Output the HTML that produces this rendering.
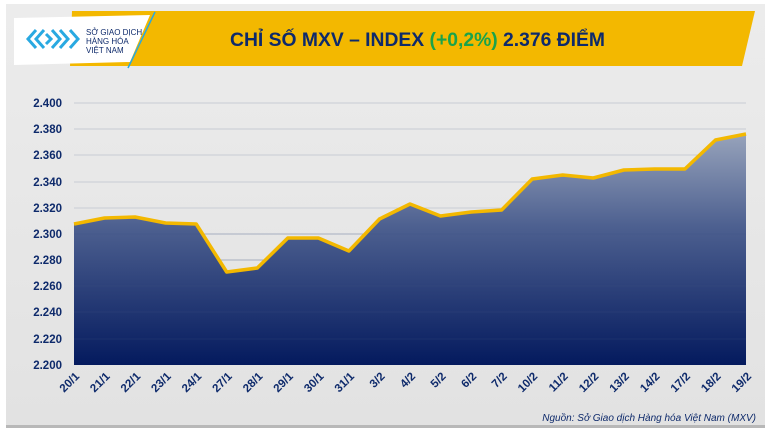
<!DOCTYPE html>
<html><head><meta charset="utf-8"><style>
html,body{margin:0;padding:0;background:#fff;}
body{width:770px;height:433px;overflow:hidden;font-family:"Liberation Sans",sans-serif;}
</style></head><body>
<svg width="770" height="433" viewBox="0 0 770 433" xmlns="http://www.w3.org/2000/svg">
<defs>
<linearGradient id="bg" x1="0" y1="0" x2="0" y2="1"><stop offset="0" stop-color="#ececec"/><stop offset="1" stop-color="#e2e2e2"/></linearGradient>
<linearGradient id="fl" x1="0" y1="0" x2="0" y2="1"><stop offset="0" stop-color="#97a3bb"/><stop offset="0.4" stop-color="#4d6090"/><stop offset="1" stop-color="#041a5e"/></linearGradient>
</defs>
<rect x="0" y="0" width="770" height="433" fill="#fff"/>
<rect x="6" y="4" width="759" height="423" fill="url(#bg)"/>
<rect x="6" y="425" width="759" height="3" fill="#b8b8b8"/>
<polygon points="72,11 755,11 742,66 70,66" fill="#f3b800"/>
<polygon points="14,18 150,15 130,62 14,65" fill="#fff"/>
<line x1="155" y1="12" x2="128" y2="68" stroke="#2aa8e0" stroke-width="1.5"/>
<g fill="none" stroke="#29a9e1" stroke-width="3">
<path d="M36,30 l-8,9 l8,9 M44,30 l-8,9 l8,9 M52,30 l8,9 l-8,9 M60,30 l8,9 l-8,9 M46,34 l5,5 l-5,5 M70,30 l8,9 l-8,9"/>
</g>
<text x="86" y="35" font-size="8" fill="#0e2a6b">SỞ GIAO DỊCH</text>
<text x="86" y="44" font-size="8" fill="#0e2a6b">HÀNG HÓA</text>
<text x="86" y="53" font-size="8" fill="#0e2a6b">VIỆT NAM</text>
<text x="230" y="46" font-size="19" font-weight="bold" fill="#0e2a6b" textLength="375" lengthAdjust="spacingAndGlyphs">CHỈ SỐ MXV – INDEX <tspan fill="#1aa34a">(+0,2%)</tspan> 2.376 ĐIỂM</text>
<g stroke="#c8ccd4" stroke-width="1">
<line x1="74" y1="103" x2="746" y2="103"/><line x1="74" y1="129" x2="746" y2="129"/><line x1="74" y1="155" x2="746" y2="155"/><line x1="74" y1="182" x2="746" y2="182"/><line x1="74" y1="208" x2="746" y2="208"/><line x1="74" y1="234" x2="746" y2="234"/><line x1="74" y1="260" x2="746" y2="260"/><line x1="74" y1="286" x2="746" y2="286"/><line x1="74" y1="312" x2="746" y2="312"/><line x1="74" y1="339" x2="746" y2="339"/>
</g>
<polygon fill="url(#fl)" points="74,365 74,224 104.5,218 135.1,217 165.6,223 196.2,224 226.7,272 257.3,268 287.8,238 318.4,238 348.9,251 379.5,219 410,204 440.5,216 471.1,212 501.6,210 532.2,179 562.7,175 593.3,178 623.8,170 654.4,169 684.9,169 715.5,140 746,134 746,365"/>
<g stroke="#3d5080" stroke-width="0.6" opacity="0.5"><line x1="74" y1="234" x2="746" y2="234"/><line x1="74" y1="260" x2="746" y2="260"/><line x1="74" y1="286" x2="746" y2="286"/><line x1="74" y1="312" x2="746" y2="312"/><line x1="74" y1="339" x2="746" y2="339"/></g>
<polyline fill="none" stroke="#f3b800" stroke-width="3.5" stroke-linejoin="round" points="74,224 104.5,218 135.1,217 165.6,223 196.2,224 226.7,272 257.3,268 287.8,238 318.4,238 348.9,251 379.5,219 410,204 440.5,216 471.1,212 501.6,210 532.2,179 562.7,175 593.3,178 623.8,170 654.4,169 684.9,169 715.5,140 746,134"/>
<g font-size="11.5" font-weight="bold" fill="#0e2a6b" text-anchor="end">
<text x="62" y="107">2.400</text><text x="62" y="133">2.380</text><text x="62" y="159">2.360</text><text x="62" y="186">2.340</text><text x="62" y="212">2.320</text><text x="62" y="238">2.300</text><text x="62" y="264">2.280</text><text x="62" y="290">2.260</text><text x="62" y="316">2.240</text><text x="62" y="343">2.220</text><text x="62" y="369">2.200</text>
</g>
<g font-size="11.5" font-weight="bold" fill="#0e2a6b" text-anchor="end">
<text transform="translate(80,377) rotate(-45)">20/1</text><text transform="translate(110.5,377) rotate(-45)">21/1</text><text transform="translate(141.1,377) rotate(-45)">22/1</text><text transform="translate(171.6,377) rotate(-45)">23/1</text><text transform="translate(202.2,377) rotate(-45)">24/1</text><text transform="translate(232.7,377) rotate(-45)">27/1</text><text transform="translate(263.3,377) rotate(-45)">28/1</text><text transform="translate(293.8,377) rotate(-45)">29/1</text><text transform="translate(324.4,377) rotate(-45)">30/1</text><text transform="translate(354.9,377) rotate(-45)">31/1</text><text transform="translate(385.5,377) rotate(-45)">3/2</text><text transform="translate(416,377) rotate(-45)">4/2</text><text transform="translate(446.5,377) rotate(-45)">5/2</text><text transform="translate(477.1,377) rotate(-45)">6/2</text><text transform="translate(507.6,377) rotate(-45)">7/2</text><text transform="translate(538.2,377) rotate(-45)">10/2</text><text transform="translate(568.7,377) rotate(-45)">11/2</text><text transform="translate(599.3,377) rotate(-45)">12/2</text><text transform="translate(629.8,377) rotate(-45)">13/2</text><text transform="translate(660.4,377) rotate(-45)">14/2</text><text transform="translate(690.9,377) rotate(-45)">17/2</text><text transform="translate(721.5,377) rotate(-45)">18/2</text><text transform="translate(752,377) rotate(-45)">19/2</text>
</g>
<text x="756" y="421" font-size="10" font-style="italic" fill="#0e2a6b" text-anchor="end">Nguồn: Sở Giao dịch Hàng hóa Việt Nam (MXV)</text>
</svg>
</body></html>
